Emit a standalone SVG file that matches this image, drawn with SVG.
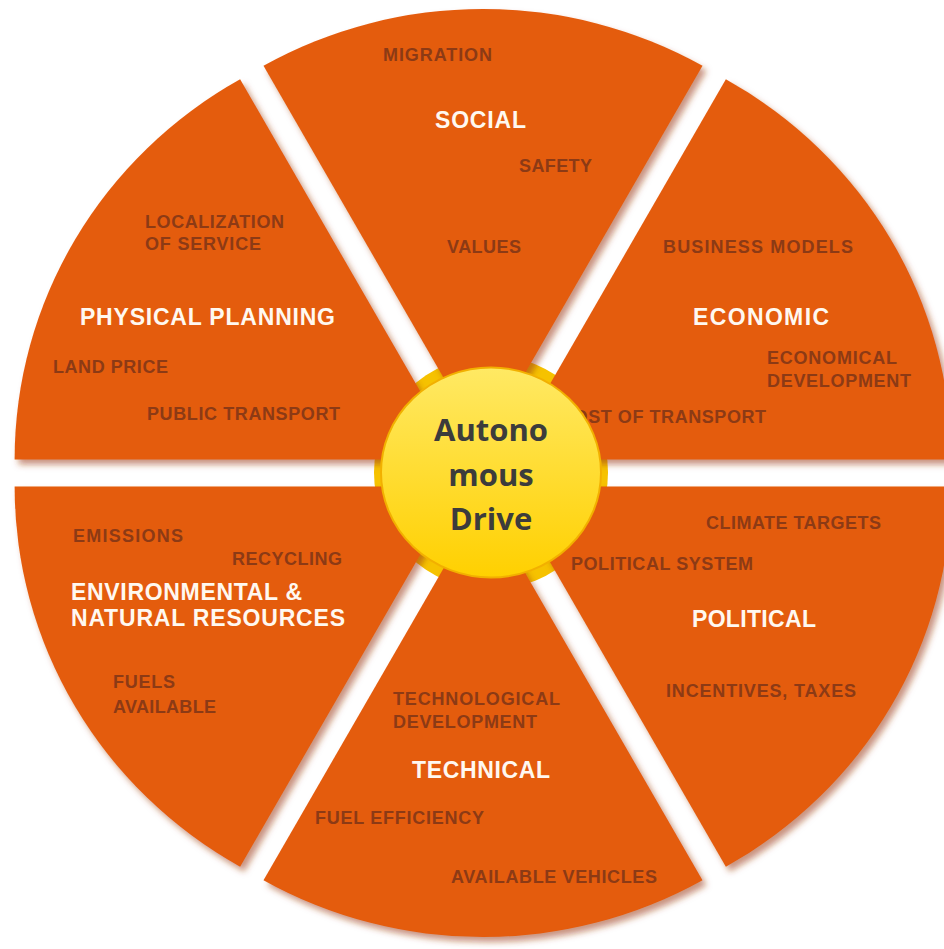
<svg xmlns="http://www.w3.org/2000/svg" width="944" height="949" viewBox="0 0 944 949">
<defs>
<filter id="sh" x="-10%" y="-10%" width="125%" height="125%">
<feDropShadow dx="4" dy="5" stdDeviation="3" flood-color="#9C3A08" flood-opacity="0.55"/>
</filter>
<linearGradient id="yg" x1="0" y1="0" x2="0" y2="1">
<stop offset="0" stop-color="#FFE964"/>
<stop offset="1" stop-color="#FFD000"/>
</linearGradient>
<style>
.w{fill:#E45B0D;filter:url(#sh)}
.h{font-family:"Liberation Sans",Arial,sans-serif;font-weight:bold;font-size:23px;fill:#FFF8F0}
.l{font-family:"Liberation Sans",Arial,sans-serif;font-weight:bold;font-size:18px;fill:#8C3A15}
.c{font-family:"Open Sans","Liberation Sans",sans-serif;font-weight:bold;font-size:31px;fill:#3C3C3C;text-anchor:middle}
</style>
</defs>
<rect width="944" height="949" fill="#FFFFFF"/>
<circle id="ring" cx="491" cy="472.5" r="117" fill="#F6C200"/>
<g id="economic">
<path class="w" transform="translate(23.38,-13.5)" d="M483,473 L928,473 A445,437 0 0 0 702.5,92.8 Z"/>
<text class="h" x="693" y="324.5" textLength="136" lengthAdjust="spacing">ECONOMIC</text>
<text class="l" x="663" y="253" textLength="190" lengthAdjust="spacing">BUSINESS MODELS</text>
<text class="l" x="767" y="364" textLength="130" lengthAdjust="spacing">ECONOMICAL</text>
<text class="l" x="767" y="387" textLength="144" lengthAdjust="spacing">DEVELOPMENT</text>
<text class="l" x="560" y="423" textLength="206" lengthAdjust="spacing">COST OF TRANSPORT</text>
</g>
<g id="social">
<path class="w" transform="translate(0,-27)" d="M483,473 L702.5,92.8 A445,437 0 0 0 263.5,92.8 Z"/>
<text class="h" x="435" y="128" textLength="91" lengthAdjust="spacing">SOCIAL</text>
<text class="l" x="383" y="61" textLength="109" lengthAdjust="spacing">MIGRATION</text>
<text class="l" x="519" y="172" textLength="73" lengthAdjust="spacing">SAFETY</text>
<text class="l" x="447" y="253" textLength="74" lengthAdjust="spacing">VALUES</text>
</g>
<g id="physical-planning">
<path class="w" transform="translate(-23.38,-13.5)" d="M483,473 L263.5,92.8 A445,437 0 0 0 38,473 Z"/>
<text class="h" x="80" y="324.5" textLength="255" lengthAdjust="spacing">PHYSICAL PLANNING</text>
<text class="l" x="145" y="227.5" textLength="139" lengthAdjust="spacing">LOCALIZATION</text>
<text class="l" x="145" y="250" textLength="116" lengthAdjust="spacing">OF SERVICE</text>
<text class="l" x="53" y="373" textLength="115" lengthAdjust="spacing">LAND PRICE</text>
<text class="l" x="147" y="420" textLength="193" lengthAdjust="spacing">PUBLIC TRANSPORT</text>
</g>
<g id="environmental">
<path class="w" transform="translate(-23.38,13.5)" d="M483,473 L38,473 A445,437 0 0 0 263.5,853.2 Z"/>
<text class="h" x="71" y="600" textLength="231" lengthAdjust="spacing">ENVIRONMENTAL &amp;</text>
<text class="h" x="71" y="626" textLength="274" lengthAdjust="spacing">NATURAL RESOURCES</text>
<text class="l" x="73" y="541.5" textLength="110" lengthAdjust="spacing">EMISSIONS</text>
<text class="l" x="232" y="565" textLength="110" lengthAdjust="spacing">RECYCLING</text>
<text class="l" x="113" y="688" textLength="62" lengthAdjust="spacing">FUELS</text>
<text class="l" x="113" y="712.5" textLength="103" lengthAdjust="spacing">AVAILABLE</text>
</g>
<g id="technical">
<path class="w" transform="translate(0,27)" d="M483,473 L263.5,853.2 A445,437 0 0 0 702.5,853.2 Z"/>
<text class="h" x="412" y="778" textLength="138" lengthAdjust="spacing">TECHNICAL</text>
<text class="l" x="393" y="705" textLength="167" lengthAdjust="spacing">TECHNOLOGICAL</text>
<text class="l" x="393" y="727.5" textLength="144" lengthAdjust="spacing">DEVELOPMENT</text>
<text class="l" x="315" y="824" textLength="169" lengthAdjust="spacing">FUEL EFFICIENCY</text>
<text class="l" x="451" y="883" textLength="206" lengthAdjust="spacing">AVAILABLE VEHICLES</text>
</g>
<g id="political">
<path class="w" transform="translate(23.38,13.5)" d="M483,473 L702.5,853.2 A445,437 0 0 0 928,473 Z"/>
<text class="h" x="692" y="627" textLength="124" lengthAdjust="spacing">POLITICAL</text>
<text class="l" x="706" y="529" textLength="175" lengthAdjust="spacing">CLIMATE TARGETS</text>
<text class="l" x="571" y="570" textLength="182" lengthAdjust="spacing">POLITICAL SYSTEM</text>
<text class="l" x="666" y="697" textLength="190" lengthAdjust="spacing">INCENTIVES, TAXES</text>
</g>
<g id="center">
<ellipse cx="491" cy="472.5" rx="110" ry="105" fill="url(#yg)" stroke="#F2B000" stroke-width="2"/>
<text class="c" x="491" y="441">Autono</text>
<text class="c" x="491" y="486">mous</text>
<text class="c" x="491" y="530">Drive</text>
</g>
</svg>
